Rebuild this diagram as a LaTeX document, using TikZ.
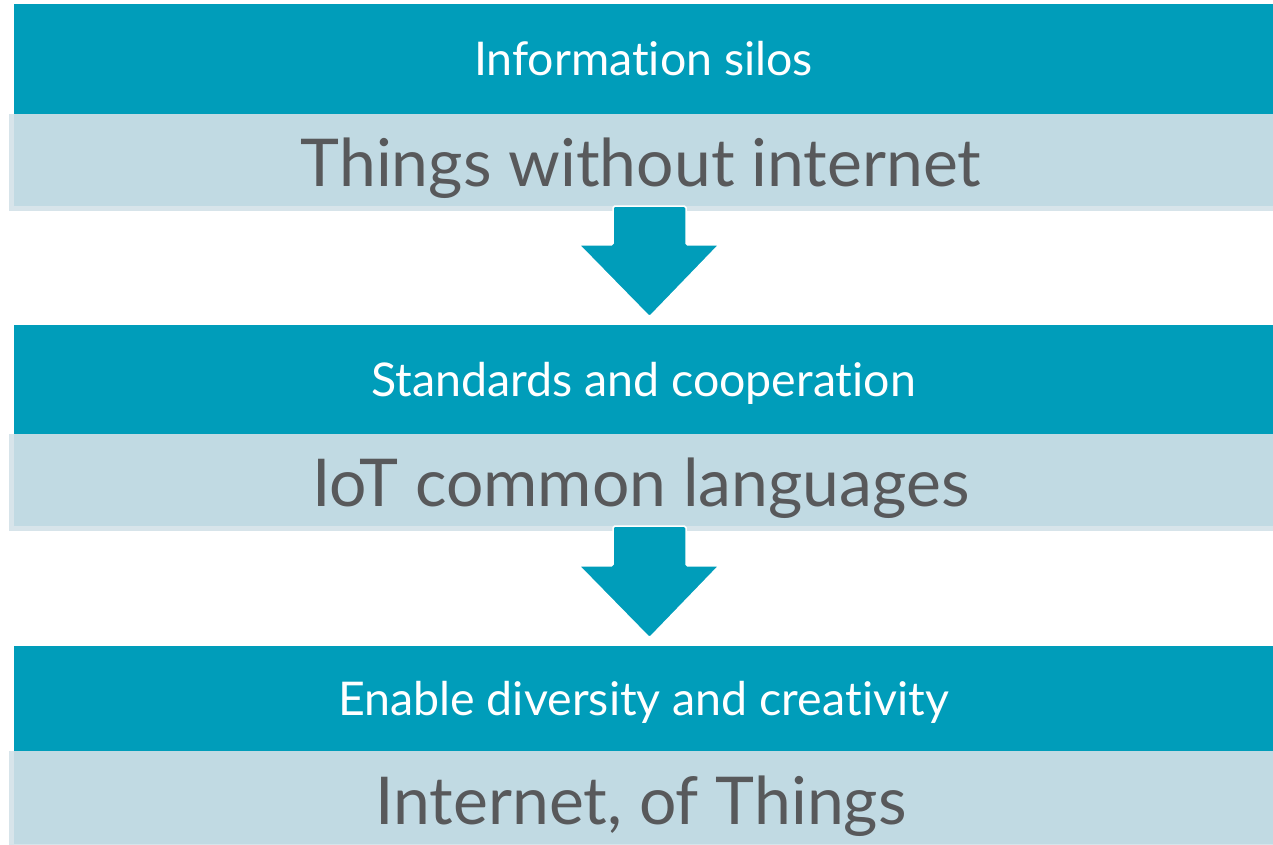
\documentclass[tikz,border=0pt]{standalone}
\usepackage{fontspec}
\setmainfont{Lato}[Ligatures = NoCommon]
\usetikzlibrary{calc}

\definecolor{iotblue}{HTML}{009DBA}
\definecolor{iotpale}{HTML}{C1DAE3}
\definecolor{iotedge}{HTML}{D7E4EA}
\definecolor{iotgrey}{HTML}{58595B}

\tikzset{
	topbar/.style = {fill = iotblue, text = white, font = \fontsize{46.5}{46.5}\selectfont,
		minimum width = 1259pt, inner sep = 0pt, text height = 33.5pt, text depth = 0pt},
	lowbar/.style = {fill = iotedge, text = iotgrey, font = \fontsize{66}{66}\selectfont,
		minimum width = 1264pt, inner sep = 0pt, text height = 48pt, text depth = 0pt,
		path picture = {\fill [iotpale] ([xshift = 5pt]path picture bounding box.north west)
			rectangle ([yshift = 5pt]path picture bounding box.south east);}},
	flowarrow/.style = {fill = iotblue, draw = white, line width = 1.5pt, rounded corners = 1.5pt}
}

% Arrow from a pale bar down to the next blue bar
\newcommand{\flowarrow}[2]{%
	\draw [flowarrow] ($(#1.south -| #2.north) + (-30.5, -5)$) -- ($(#1.south -| #2.north) + (42.5, -5)$)
		-- ($(#2.north) + (42.5, -80)$) -- ($(#2.north) + (75.5, -80)$) -- ($(#2.north) + (6, -8)$)
		-- ($(#2.north) + (-64.5, -80)$) -- ($(#2.north) + (-30.5, -80)$) -- cycle;}

\begin{document}
\begin{tikzpicture}[x = 1pt, y = -1pt]

	\useasboundingbox [fill = white] (0, 0) rectangle (1273, 844);

	% Blue heading bars
	
	\node [topbar, minimum height = 110pt] (silos) at (643.5, 59) {Information silos};
	\node [topbar, minimum height = 109pt] (standards) at (643.5, 379.5) {Standards and cooperation};
	\node [topbar, minimum height = 105pt] (diversity) at (643.5, 698.5) {Enable diversity and creativity};
	
	% Pale bars below them
	
	\node [lowbar, minimum height = 97pt] (nointernet) at (641, 162.5) {Things without internet};
	\node [lowbar, minimum height = 97pt] (languages) at (641, 482.5) {IoT common languages};
	\node [lowbar, minimum height = 98pt] (iot) at (641, 800) {Internet, of Things};
	
	% Arrows between the stages
	
	\flowarrow{nointernet}{standards}
	\flowarrow{languages}{diversity}

\end{tikzpicture}
\end{document}
